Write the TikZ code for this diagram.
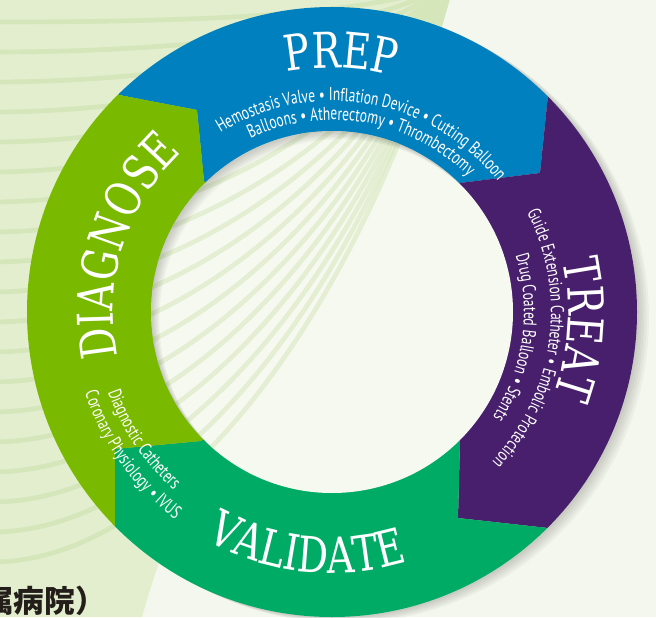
\documentclass[tikz,border=0pt]{standalone}
\usepackage{fontspec}
\usetikzlibrary{calc,decorations.text}
\newfontfamily\titlefont[FakeStretch=0.78]{DejaVu Serif}
\newfontfamily\subfont[FakeStretch=0.72]{PT Sans}
\newfontfamily\cjkfont{Noto Sans CJK JP}
\definecolor{prepblue}{RGB}{0,128,190}
\definecolor{treatpurple}{RGB}{72,31,108}
\definecolor{validgreen}{RGB}{0,172,101}
\definecolor{diaglime}{RGB}{121,185,0}
\definecolor{bggreen}{RGB}{226,238,206}
\definecolor{bgwhite}{RGB}{244,247,238}
\definecolor{bgline}{RGB}{212,230,186}
\definecolor{holewhite}{RGB}{246,249,240}
\definecolor{inkdark}{RGB}{35,30,25}

\begin{document}
\begin{tikzpicture}[x=0.75pt, y=0.75pt,
    titletxt/.style={decorate, decoration={text along path, text align=center, text color=white,
        text={|\titlefont\fontsize{37}{40}\selectfont|#1}}},
    subtxt/.style={decorate, decoration={text along path, text align=center, text color=white,
        text={|\subfont\fontsize{14}{16}\selectfont|#1}}},
    stripe/.style={draw=bgline, line width=3.5pt},
  ]
    \useasboundingbox (-332,-305) rectangle (324,312);

    % background
    \fill[bgwhite] (-332,-305) rectangle (324,312);
    \fill[bggreen] (-332,312) -- (88,312) .. controls (20,150) and (-120,-60) .. (-190,-305)
        -- (-332,-305) -- cycle;
    \begin{scope}
      \clip (-332,-305) rectangle (324,312);
      \foreach \y in {-250,-220,...,330}
        \draw[stripe] (-340,\y) .. controls (-150,\y) and (40,0.5*\y+150) .. (120,330);
    \end{scope}

    % shadow of the ring
    \foreach \k in {3,6,...,15}
      \fill[black, opacity=0.035] (0.8*\k,-0.4*\k) circle[radius=305];

    % step points between the parts
    \coordinate (tlI) at (-128,131);  \coordinate (tlC) at (-135,202);  \coordinate (tlO) at (-213,217);
    \coordinate (trI) at (128,129);   \coordinate (trC) at (208,139);   \coordinate (trO) at (216,217);
    \coordinate (brI) at (128,-129);  \coordinate (brC) at (126,-206);  \coordinate (brO) at (216,-216);
    \coordinate (blI) at (-131,-129); \coordinate (blC) at (-217,-137); \coordinate (blO) at (-217,-216);

    \begin{scope}
      \clip (0,0) circle[radius=305];
      \fill[prepblue]    (0,0) -- (tlI) -- (tlC) -- (tlO) -- ($2*(tlO)$) -- ($2*(trO)$) -- (trO) -- (trC) -- (trI) -- cycle;
      \fill[treatpurple] (0,0) -- (trI) -- (trC) -- (trO) -- ($2*(trO)$) -- ($2*(brO)$) -- (brO) -- (brC) -- (brI) -- cycle;
      \fill[validgreen]  (0,0) -- (brI) -- (brC) -- (brO) -- ($2*(brO)$) -- ($2*(blO)$) -- (blO) -- (blC) -- (blI) -- cycle;
      \fill[diaglime]    (0,0) -- (blI) -- (blC) -- (blO) -- ($2*(blO)$) -- ($2*(tlO)$) -- (tlO) -- (tlC) -- (tlI) -- cycle;
    \end{scope}

    % hole
    \fill[holewhite] (0,0) circle[radius=181];
    \begin{scope}
      \clip (0,0) circle[radius=181];
      \foreach \y in {-250,-220,...,330}
        \draw[stripe, opacity=0.55] (-340,\y) .. controls (-150,\y) and (40,0.5*\y+150) .. (120,330);
      \foreach \k in {2,4,...,12}
        \fill[black, opacity=0.03, even odd rule] (-200,-200) rectangle (200,200) (0.7*\k,-0.7*\k) circle[radius=181];
    \end{scope}

    % titles
    \path[titletxt={PREP}] (148:244) arc[start angle=148, end angle=28, radius=244];
    \path[titletxt={TREAT}] (56:236) arc[start angle=56, end angle=-64, radius=236];
    \path[titletxt={DIAGNOSE}] (222.5:219) arc[start angle=222.5, end angle=102.5, radius=219];
    \path[titletxt={VALIDATE}] (204:261) arc[start angle=204, end angle=324, radius=261];

    % items
    \path[subtxt={Hemostasis Valve • Inflation Device • Cutting Balloon}]
      (150:211) arc[start angle=150, end angle=10, radius=211];
    \path[subtxt={Balloons • Atherectomy • Thrombectomy}]
      (150:192) arc[start angle=150, end angle=10, radius=192];
    \path[subtxt={Guide Extension Catheter • Embolic Protection}]
      (62:219) arc[start angle=62, end angle=-78, radius=219];
    \path[subtxt={Drug Coated Balloon • Stents}]
      (62:192) arc[start angle=62, end angle=-78, radius=192];
    \path[subtxt={Diagnostic Catheters}]
      (154:238) arc[start angle=154, end angle=274, radius=238];
    \path[subtxt={Coronary Physiology • IVUS}]
      (155.5:260) arc[start angle=155.5, end angle=275.5, radius=260];

    \node[anchor=base east, inner sep=0pt, text=inkdark, font=\cjkfont\bfseries\fontsize{23}{23}\selectfont]
      (hosp) at (-226,-300) {属病院）};
\end{tikzpicture}
\end{document}
